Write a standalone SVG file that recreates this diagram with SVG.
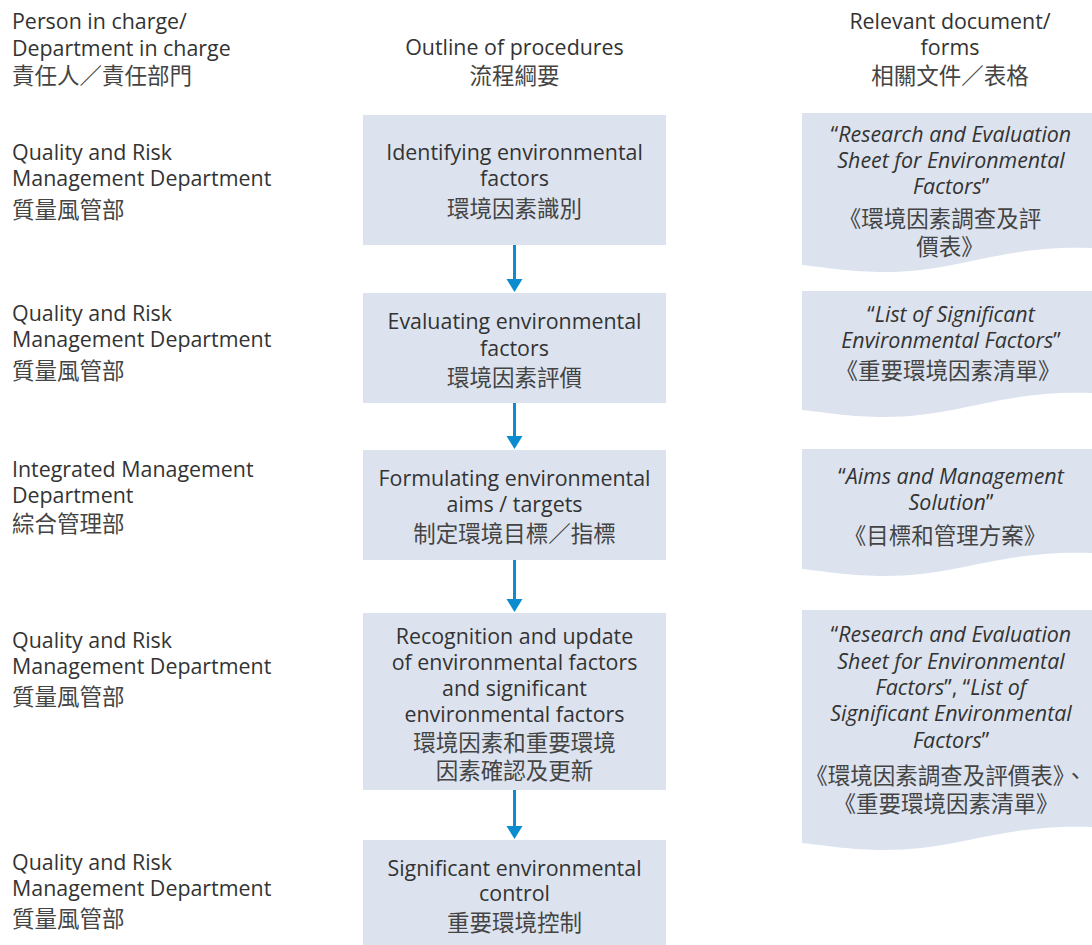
<svg xmlns="http://www.w3.org/2000/svg" width="1092" height="945" viewBox="0 0 1092 945">
<style>
text{font-family:"Open Sans","Noto Sans","Noto Sans CJK TC",sans-serif;font-size:21.4px;fill:#333}
.c{font-family:"Noto Sans CJK TC","Noto Sans CJK SC",sans-serif;font-size:22.5px;fill:#444}
.m{text-anchor:middle}
.i{font-style:italic}
.box{fill:#dce3ef}
.arrow{stroke:#0a8ccf;stroke-width:3;fill:none}
.head{fill:#0a8ccf}
</style>
<rect width="1092" height="945" fill="#fff"/>
<g id="headers">
<text x="12" y="29">Person in charge/</text>
<text x="12" y="56">Department in charge</text>
<text class="c" x="12" y="84">責任人／責任部門</text>
<text class="m" x="514.5" y="55">Outline of procedures</text>
<text class="c m" x="514.5" y="84">流程綱要</text>
<text class="m" x="950" y="29">Relevant document/</text>
<text class="m" x="950" y="55">forms</text>
<text class="c m" x="950" y="84">相關文件／表格</text>
</g>
<g id="dept1"><text x="12" y="160">Quality and Risk</text><text x="12" y="186">Management Department</text><text class="c" x="12" y="218">質量風管部</text></g>
<g id="dept2"><text x="12" y="321">Quality and Risk</text><text x="12" y="347">Management Department</text><text class="c" x="12" y="379">質量風管部</text></g>
<g id="dept3"><text x="12" y="477">Integrated Management</text><text x="12" y="503">Department</text><text class="c" x="12" y="532">綜合管理部</text></g>
<g id="dept4"><text x="12" y="648">Quality and Risk</text><text x="12" y="674">Management Department</text><text class="c" x="12" y="705">質量風管部</text></g>
<g id="dept5"><text x="12" y="870">Quality and Risk</text><text x="12" y="896">Management Department</text><text class="c" x="12" y="927">質量風管部</text></g>

<g id="step1"><rect class="box" x="363" y="115" width="303" height="130"/>
<text class="m" x="514.5" y="160">Identifying environmental</text><text class="m" x="514.5" y="186">factors</text><text class="c m" x="514.5" y="217">環境因素識別</text></g>
<g id="step2"><rect class="box" x="363" y="293" width="303" height="110"/>
<text class="m" x="514.5" y="329">Evaluating environmental</text><text class="m" x="514.5" y="356">factors</text><text class="c m" x="514.5" y="386">環境因素評價</text></g>
<g id="step3"><rect class="box" x="363" y="450" width="303" height="110"/>
<text class="m" x="514.5" y="486">Formulating environmental</text><text class="m" x="514.5" y="512">aims / targets</text><text class="c m" x="514.5" y="542">制定環境目標／指標</text></g>
<g id="step4"><rect class="box" x="363" y="613" width="303" height="177"/>
<text class="m" x="514.5" y="644">Recognition and update</text><text class="m" x="514.5" y="670">of environmental factors</text><text class="m" x="514.5" y="696">and significant</text><text class="m" x="514.5" y="722">environmental factors</text><text class="c m" x="514.5" y="751">環境因素和重要環境</text><text class="c m" x="514.5" y="779">因素確認及更新</text></g>
<g id="step5"><rect class="box" x="363" y="840" width="303" height="105"/>
<text class="m" x="514.5" y="876">Significant environmental</text><text class="m" x="514.5" y="901">control</text><text class="c m" x="514.5" y="931">重要環境控制</text></g>

<g id="doc1"><path class="box" d="M802,113 H1092 V248 C1000,245 960,272 885,272 C850,272 830,268 802,265 Z"/>
<text class="m" x="951" y="142">“<tspan class="i">Research and Evaluation</tspan></text>
<text class="m i" x="951" y="168">Sheet for Environmental</text>
<text class="m" x="951" y="194"><tspan class="i">Factors</tspan>”</text>
<text class="c m" x="940" y="227">《環境因素調查及評</text>
<text class="c m" x="950" y="255">價表》</text></g>
<g id="doc2"><path class="box" d="M802,291 H1092 V393 C1000,390 960,417 885,417 C850,417 830,413 802,410 Z"/>
<text class="m" x="951" y="322">“<tspan class="i">List of Significant</tspan></text>
<text class="m" x="951" y="348"><tspan class="i">Environmental Factors</tspan>”</text>
<text class="c m" x="948" y="379">《重要環境因素清單》</text></g>
<g id="doc3"><path class="box" d="M802,449 H1092 V553 C1000,550 960,576 885,576 C850,576 830,572 802,569 Z"/>
<text class="m" x="951" y="484">“<tspan class="i">Aims and Management</tspan></text>
<text class="m" x="951" y="510"><tspan class="i">Solution</tspan>”</text>
<text class="c m" x="945" y="544">《目標和管理方案》</text></g>
<g id="doc4"><path class="box" d="M802,610 H1092 V827 C1000,824 960,850 885,850 C850,850 830,846 802,843 Z"/>
<text class="m" x="951" y="642">“<tspan class="i">Research and Evaluation</tspan></text>
<text class="m i" x="951" y="669">Sheet for Environmental</text>
<text class="m" x="951" y="695"><tspan class="i">Factors</tspan>”, “<tspan class="i">List of</tspan></text>
<text class="m i" x="951" y="721">Significant Environmental</text>
<text class="m" x="951" y="748"><tspan class="i">Factors</tspan>”</text>
<text class="c m" x="946" y="784">《環境因素調查及評價表》、</text>
<text class="c m" x="946" y="812">《重要環境因素清單》</text></g>

<g id="connectors">
<line class="arrow" x1="514.5" y1="245" x2="514.5" y2="280"/><polygon class="head" points="506.5,279 522.5,279 514.5,292"/>
<line class="arrow" x1="514.5" y1="403" x2="514.5" y2="437"/><polygon class="head" points="506.5,436 522.5,436 514.5,449"/>
<line class="arrow" x1="514.5" y1="560" x2="514.5" y2="600"/><polygon class="head" points="506.5,599 522.5,599 514.5,612"/>
<line class="arrow" x1="514.5" y1="790" x2="514.5" y2="827"/><polygon class="head" points="506.5,826 522.5,826 514.5,839"/>
</g>
</svg>
